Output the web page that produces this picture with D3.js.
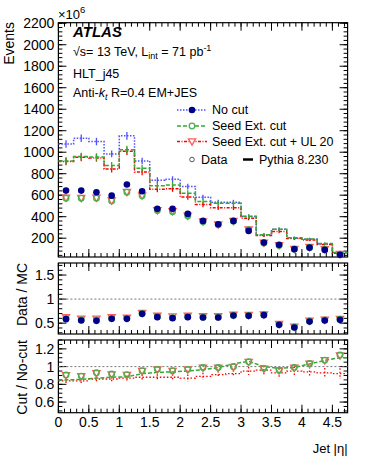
<!DOCTYPE html>
<meta charset="utf-8">
<style>
  body { margin: 0; background: #fff; }
  svg { font-family: "Liberation Sans", Arial, sans-serif; }
</style>
<svg width="366" height="474"></svg>
<script src="https://d3js.org/d3.v7.min.js"></script>
<script>

// bin edges in jet |eta|
var binEdges = [0, 0.25, 0.5, 0.75, 1, 1.25, 1.5, 1.75, 2, 2.25, 2.5, 2.75, 3, 3.25, 3.5, 3.75, 4, 4.25, 4.5, 4.75]
var binCenters = [0.125, 0.375, 0.625, 0.875, 1.125, 1.375, 1.625, 1.875, 2.125, 2.375, 2.625, 2.875, 3.125, 3.375, 3.625, 3.875, 4.125, 4.375, 4.625]

// Pythia MC (x10^6 events)
var mcNoCut  = [1077, 1130, 1099, 984, 1152, 919, 738, 748, 680, 581, 535, 535, 401, 231, 284, 200, 190, 147, 66]
var mcSeed   = [919, 961, 956, 877, 1024, 851, 687, 696, 619, 542, 526, 526, 403, 232, 284, 203, 193, 150, 68]
var mcSeedUL = [914, 952, 947, 843, 1009, 815, 656, 659, 584, 513, 484, 484, 386, 226, 263, 198, 184, 142, 59]
var mcErr    = [35, 35, 35, 32, 35, 30, 28, 28, 26, 24, 22, 22, 20, 15, 16, 13, 12, 11, 8]

// data (x10^6 events)
var dataNoCut  = [643, 643, 628, 596, 700, 637, 473, 473, 426, 361, 330, 361, 268, 159, 138, 98, 112, 91, 45]
var dataSeed   = [572, 572, 572, 547, 628, 594, 457, 447, 407, 352, 325, 357, 280, 155, 133, 97, 115, 96, 50]
var dataSeedUL = [575, 574, 575, 549, 630, 596, 459, 450, 409, 354, 327, 358, 281, 156, 134, 98, 116, 97, 51]

// Data / MC
var ratioNoCut  = [0.583, 0.554, 0.548, 0.59, 0.59, 0.694, 0.625, 0.604, 0.625, 0.617, 0.617, 0.658, 0.652, 0.667, 0.465, 0.41, 0.533, 0.554, 0.569]
var ratioSeed   = [0.60, 0.57, 0.565, 0.60, 0.60, 0.70, 0.635, 0.615, 0.635, 0.625, 0.625, 0.665, 0.66, 0.675, 0.475, 0.42, 0.545, 0.565, 0.58]
var ratioSeedUL = [0.62, 0.59, 0.59, 0.62, 0.61, 0.71, 0.65, 0.635, 0.65, 0.64, 0.64, 0.675, 0.67, 0.68, 0.48, 0.425, 0.55, 0.57, 0.585]

// Cut / No-cut
var cutDataSeed   = [0.905, 0.893, 0.93, 0.916, 0.908, 0.953, 0.969, 0.953, 0.969, 0.991, 0.991, 0.998, 1.054, 0.98, 0.96, 0.991, 1.036, 1.073, 1.13]
var cutDataSeedUL = [0.90, 0.89, 0.925, 0.91, 0.905, 0.95, 0.965, 0.95, 0.965, 0.985, 0.985, 0.995, 1.05, 0.975, 0.955, 0.985, 1.03, 1.07, 1.125]
var cutMcSeed     = [0.85, 0.855, 0.87, 0.88, 0.885, 0.92, 0.935, 0.94, 0.95, 0.965, 0.99, 1.03, 1.06, 1.0, 0.98, 0.99, 1.03, 1.07, 1.10]
var cutMcSeedUL   = [0.84, 0.84, 0.86, 0.86, 0.87, 0.88, 0.88, 0.88, 0.87, 0.89, 0.91, 0.92, 0.95, 0.96, 0.93, 0.95, 0.94, 0.93, 0.92]
var cutMcSeedULErr = [0.03, 0.03, 0.03, 0.03, 0.03, 0.03, 0.035, 0.035, 0.04, 0.04, 0.04, 0.04, 0.045, 0.05, 0.05, 0.05, 0.055, 0.055, 0.06]

var mainTicks  = [200, 400, 600, 800, 1000, 1200, 1400, 1600, 1800, 2000, 2200]
var ratioTicks = [0.5, 1, 1.5]
var cutTicks   = [0.6, 0.8, 1, 1.2]
var xTicks     = [0, 0.5, 1, 1.5, 2, 2.5, 3, 3.5, 4, 4.5]

var blueLine = '#5050ff', blueMark = '#00008b'
var greenLine = '#33a833', greenMark = '#4cb04c'
var redLine = '#ff0000', redMark = '#ff5c5c'

var svg = d3.select('svg')
var x0 = 58.4, x1 = 347.6
var x = d3.scaleLinear().domain([0, 4.75]).range([x0, x1])

var yMain = d3.scaleLinear().domain([25, 2205]).range([257, 22.7])
var yRatio = d3.scaleLinear().domain([0.275, 1.75]).range([334, 263])
var yCut = d3.scaleLinear().domain([0.48, 1.3]).range([412.7, 340])

function range(a, b, s) { return d3.range(a, b + s / 2, s) }

function drawFrame(y, major, minorStep, showXLabels) {
    var g = svg.append('g')
    var d = y.domain(), r = y.range()
    var minors = range(Math.ceil(d[0] / minorStep) * minorStep, d[1], minorStep)
    var xMinors = range(0, 4.75, 0.1)
    // y ticks left + right
    ;[[x0, 1], [x1, -1]].forEach(function (s) {
        g.selectAll(null).data(minors).enter().append('line')
            .attr('x1', s[0]).attr('x2', s[0] + s[1] * 4)
            .attr('y1', y).attr('y2', y).attr('stroke', '#000')
        g.selectAll(null).data(major).enter().append('line')
            .attr('x1', s[0]).attr('x2', s[0] + s[1] * 8)
            .attr('y1', y).attr('y2', y).attr('stroke', '#000')
    })
    // x ticks bottom + top
    ;[[r[0], -1], [r[1], 1]].forEach(function (s) {
        g.selectAll(null).data(xMinors).enter().append('line')
            .attr('x1', x).attr('x2', x)
            .attr('y1', s[0]).attr('y2', s[0] + s[1] * 4).attr('stroke', '#000')
        g.selectAll(null).data(xTicks).enter().append('line')
            .attr('x1', x).attr('x2', x)
            .attr('y1', s[0]).attr('y2', s[0] + s[1] * 8).attr('stroke', '#000')
    })
    g.selectAll(null).data(major).enter().append('text')
        .attr('x', x0 - 4).attr('y', y).attr('dy', '0.36em')
        .attr('text-anchor', 'end').attr('font-size', 14)
        .text(d3.format('~g'))
    if (showXLabels) {
        g.selectAll(null).data(xTicks).enter().append('text')
            .attr('x', x).attr('y', r[0] + 14)
            .attr('text-anchor', 'middle').attr('font-size', 14)
            .text(d3.format('~g'))
    }
    g.append('rect').attr('x', x0).attr('y', r[1])
        .attr('width', x1 - x0).attr('height', r[0] - r[1])
        .attr('fill', 'none').attr('stroke', '#000').attr('stroke-width', 1.2)
    return g
}

function stepPath(vals, y) {
    var p = ''
    vals.forEach(function (v, i) {
        p += (i === 0 ? 'M' : 'L') + x(binEdges[i]) + ',' + y(v) + 'L' + x(binEdges[i + 1]) + ',' + y(v)
    })
    return p
}

function mcHist(vals, color, dash) {
    svg.append('path').attr('d', stepPath(vals, yMain))
        .attr('fill', 'none').attr('stroke', color).attr('stroke-width', 1.5)
        .attr('stroke-dasharray', dash)
    svg.selectAll(null).data(vals).enter().append('line')
        .attr('x1', function (d, i) { return x(binCenters[i]) })
        .attr('x2', function (d, i) { return x(binCenters[i]) })
        .attr('y1', function (d, i) { return yMain(d + mcErr[i]) })
        .attr('y2', function (d, i) { return yMain(d - mcErr[i]) })
        .attr('stroke', color).attr('stroke-width', 1.3)
}

function triangle(cx, cy, s) {
    return 'M' + (cx - s) + ',' + (cy - s * 0.75) + 'L' + (cx + s) + ',' + (cy - s * 0.75) + 'L' + cx + ',' + (cy + s) + 'Z'
}

function markers(vals, y, kind) {
    var sel = svg.selectAll(null).data(vals).enter()
    if (kind === 'tri') {
        sel.append('path')
            .attr('d', function (d, i) { return triangle(x(binCenters[i]), y(d), 3.6) })
            .attr('fill', 'none').attr('stroke', redMark).attr('stroke-width', 1.3)
    } else if (kind === 'open') {
        sel.append('circle').attr('cx', function (d, i) { return x(binCenters[i]) })
            .attr('cy', y).attr('r', 2.8)
            .attr('fill', 'none').attr('stroke', greenMark).attr('stroke-width', 1.3)
    } else {
        sel.append('circle').attr('cx', function (d, i) { return x(binCenters[i]) })
            .attr('cy', y).attr('r', 3.3).attr('fill', blueMark)
    }
}

// ---- main panel
drawFrame(yMain, mainTicks, 40, false)
mcHist(mcNoCut, blueLine, '1.5,1.5')
mcHist(mcSeedUL, redLine, '3,1.5,1,1.5')
mcHist(mcSeed, greenLine, '4,2')
markers(dataSeedUL, yMain, 'tri')
markers(dataSeed, yMain, 'open')
markers(dataNoCut, yMain, 'fill')

// ---- Data / MC
drawFrame(yRatio, ratioTicks, 0.1, false)
svg.append('line').attr('x1', x0).attr('x2', x1)
    .attr('y1', yRatio(1)).attr('y2', yRatio(1))
    .attr('stroke', '#777').attr('stroke-dasharray', '2,2')
markers(ratioSeedUL, yRatio, 'tri')
markers(ratioSeed, yRatio, 'open')
markers(ratioNoCut, yRatio, 'fill')

// ---- Cut / No-cut
drawFrame(yCut, cutTicks, 0.05, true)
svg.append('line').attr('x1', x0).attr('x2', x1)
    .attr('y1', yCut(1)).attr('y2', yCut(1))
    .attr('stroke', '#777').attr('stroke-dasharray', '2,2')
svg.append('path').attr('d', stepPath(cutMcSeedUL, yCut))
    .attr('fill', 'none').attr('stroke', redLine).attr('stroke-width', 1.3)
    .attr('stroke-dasharray', '1.5,2')
svg.selectAll(null).data(cutMcSeedUL).enter().append('line')
    .attr('x1', function (d, i) { return x(binCenters[i]) })
    .attr('x2', function (d, i) { return x(binCenters[i]) })
    .attr('y1', function (d, i) { return yCut(d + cutMcSeedULErr[i]) })
    .attr('y2', function (d, i) { return yCut(d - cutMcSeedULErr[i]) })
    .attr('stroke', redLine).attr('stroke-width', 1.3).attr('stroke-dasharray', '1.5,2')
var greenPts = [[0, cutMcSeed[0]]].concat(cutMcSeed.map(function (d, i) { return [binCenters[i], d] }))
greenPts.push([4.75, cutMcSeed[cutMcSeed.length - 1]])
svg.append('path')
    .attr('d', d3.line().x(function (d) { return x(d[0]) }).y(function (d) { return yCut(d[1]) })(greenPts))
    .attr('fill', 'none').attr('stroke', greenLine).attr('stroke-width', 1.5).attr('stroke-dasharray', '4,2')
markers(cutDataSeedUL, yCut, 'tri')
markers(cutDataSeed, yCut, 'open')

// ---- axis titles
svg.append('text').attr('transform', 'translate(14,22) rotate(-90)')
    .attr('text-anchor', 'end').attr('font-size', 14).text('Events')
svg.append('text').attr('transform', 'translate(27,263) rotate(-90)')
    .attr('text-anchor', 'end').attr('font-size', 14).text('Data / MC')
svg.append('text').attr('transform', 'translate(27,340) rotate(-90)')
    .attr('text-anchor', 'end').attr('font-size', 14).text('Cut / No-cut')
svg.append('text').attr('x', x1).attr('y', 453).attr('text-anchor', 'end')
    .attr('font-size', 13).text('Jet |η|')

var exp = svg.append('text').attr('x', 58).attr('y', 18.5).attr('font-size', 13)
exp.append('tspan').text('×10')
exp.append('tspan').attr('dy', -6).attr('font-size', 9.5).text('6')

// ---- labels
svg.append('text').attr('x', 73).attr('y', 37).attr('font-size', 15)
    .attr('font-weight', 'bold').attr('font-style', 'italic').text('ATLAS')
var lumi = svg.append('text').attr('x', 73).attr('y', 56).attr('font-size', 12.5)
lumi.append('tspan').text('√s= 13 TeV, L')
lumi.append('tspan').attr('dy', 3).attr('font-size', 9).text('int')
lumi.append('tspan').attr('dy', -3).text(' = 71 pb')
lumi.append('tspan').attr('dy', -5).attr('font-size', 9).text('-1')
svg.append('text').attr('x', 73).attr('y', 77.5).attr('font-size', 12.5).text('HLT_j45')
var anti = svg.append('text').attr('x', 73).attr('y', 97).attr('font-size', 12.5)
anti.append('tspan').text('Anti-')
anti.append('tspan').attr('font-style', 'italic').text('k')
anti.append('tspan').attr('dy', 3).attr('font-size', 9).attr('font-style', 'italic').text('t')
anti.append('tspan').attr('dy', -3).text(' R=0.4 EM+JES')

// ---- legend
var legendNames = ['No cut', 'Seed Ext. cut', 'Seed Ext. cut + UL 20']
var legendY = [110, 126, 141.5]
var legendStyle = [[blueLine, '1.5,1.5', 'fill'], [greenLine, '4,2', 'open'], [redLine, '3,1.5,1,1.5', 'tri']]
legendNames.forEach(function (name, i) {
    var yy = legendY[i], st = legendStyle[i]
    svg.append('line').attr('x1', 177).attr('x2', 207).attr('y1', yy).attr('y2', yy)
        .attr('stroke', st[0]).attr('stroke-width', 1.5).attr('stroke-dasharray', st[1])
    if (st[2] === 'fill') {
        svg.append('circle').attr('cx', 192).attr('cy', yy).attr('r', 3.3).attr('fill', blueMark)
    } else if (st[2] === 'open') {
        svg.append('circle').attr('cx', 192).attr('cy', yy).attr('r', 2.8)
            .attr('fill', '#fff').attr('stroke', greenMark).attr('stroke-width', 1.3)
    } else {
        svg.append('path').attr('d', triangle(192, yy, 3.6))
            .attr('fill', '#fff').attr('stroke', redMark).attr('stroke-width', 1.3)
    }
    svg.append('text').attr('x', 212).attr('y', yy + 4.3).attr('font-size', 12.5).text(name)
})
svg.append('circle').attr('cx', 192).attr('cy', 159.5).attr('r', 2.3)
    .attr('fill', 'none').attr('stroke', '#555').attr('stroke-width', 1)
svg.append('text').attr('x', 201).attr('y', 164).attr('font-size', 12.5).text('Data')
svg.append('line').attr('x1', 243).attr('x2', 253).attr('y1', 159.5).attr('y2', 159.5)
    .attr('stroke', '#000').attr('stroke-width', 2.5)
svg.append('text').attr('x', 259).attr('y', 164).attr('font-size', 12.5).text('Pythia 8.230')

</script>
